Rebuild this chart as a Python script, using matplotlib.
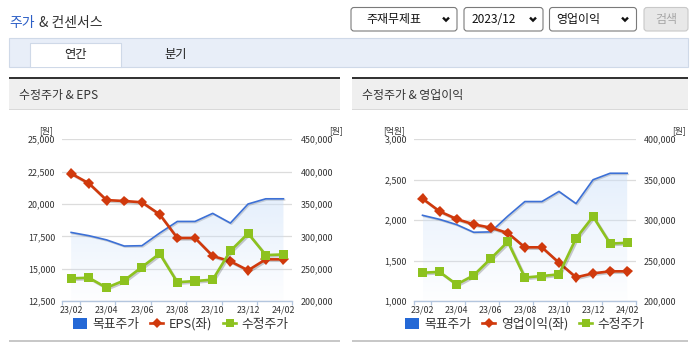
import numpy as np
import matplotlib
matplotlib.use('Agg')
import matplotlib.pyplot as plt
from matplotlib.patches import Rectangle, FancyBboxPatch, Patch, PathPatch
from matplotlib.lines import Line2D
import matplotlib.patheffects as pe
from matplotlib.ticker import FuncFormatter

plt.rcParams['font.family'] = ['Noto Sans CJK KR', 'DejaVu Sans']

# ---------------- data ----------------
months = ['23/02', '23/03', '23/04', '23/05', '23/06', '23/07', '23/08',
          '23/09', '23/10', '23/11', '23/12', '24/01', '24/02']
target_price = [306000, 301000, 294500, 285000, 285500, 305000, 323000,
                323000, 335500, 320500, 350000, 358000, 358000]
adj_price = [235000, 236000, 220500, 231800, 252500, 273300, 229000,
             230900, 233000, 277500, 304500, 271000, 272000]
eps = [22350, 21600, 20300, 20230, 20130, 19200, 17370,
       17370, 15980, 15570, 14870, 15720, 15720]
op_income = [2266, 2109, 2014, 1948, 1907, 1841, 1664,
             1664, 1474, 1293, 1342, 1367, 1367]

eps_ticks = [12500, 15000, 17500, 20000, 22500, 25000]
price_ticks_1 = [200000, 250000, 300000, 350000, 400000, 450000]
op_ticks = [1000, 1500, 2000, 2500, 3000]
price_ticks_2 = [200000, 250000, 300000, 350000, 400000]

# ---------------- colours ----------------
C_BLUE = '#3c70d6'
C_BLUE_LEG = '#2468d6'
C_RED = '#d0390c'
C_GREEN = '#8dc21f'
C_AXIS = '#b4c6de'
C_GRID = '#dcdcdc'
C_TXT = '#333333'

W, H = 695, 349
fig = plt.figure(figsize=(W / 100, H / 100), dpi=100)
bg = fig.add_axes([0, 0, 1, 1])
bg.set_xlim(0, W)
bg.set_ylim(H, 0)
bg.axis('off')


def rect(x0, y0, x1, y1, fc, ec='none', lw=0, z=1):
    bg.add_patch(Rectangle((x0, y0), x1 - x0, y1 - y0, facecolor=fc,
                           edgecolor=ec, linewidth=lw, zorder=z))


# ---------------- header ----------------
bg.text(9, 22.5, '주가', color='#2c5fc6', fontsize=10, va='center', ha='left')
bg.text(39, 22.5, '& 컨센서스', color=C_TXT, fontsize=10, va='center', ha='left')

# dropdowns
def dropdown(x0, x1, text, tx, cx):
    bg.add_patch(FancyBboxPatch((x0, 7.5), x1 - x0, 23.5,
                                boxstyle='round,pad=0,rounding_size=3',
                                facecolor='white', edgecolor='#7a7a7a', linewidth=0.8))
    bg.text(tx, 19.5, text, fontsize=8.6, color='#111111', va='center', ha='left')
    bg.plot([cx - 3, cx, cx + 3], [17.6, 20.6, 17.6], color='#111111', lw=1.7,
            solid_capstyle='butt', solid_joinstyle='miter')

dropdown(351, 457, '주재무제표', 366, 446)
dropdown(464, 543, '2023/12', 471.5, 533)
dropdown(549.5, 636.5, '영업이익', 556, 625)
bg.add_patch(FancyBboxPatch((644, 7.5), 44, 23.5,
                            boxstyle='round,pad=0,rounding_size=3',
                            facecolor='#e8e8e8', edgecolor='#c8c8c8', linewidth=0.8))
bg.text(666, 19.5, '검색', fontsize=8.6, color='#a6a6a6', va='center', ha='center')

# tab bar
rect(9, 37.5, 688, 66.5, fc='#e8eef8', ec='#cfd9e8', lw=0.8)
rect(29.5, 42.5, 120.5, 67.2, fc='white')
bg.plot([29.5, 29.5, 120.5, 120.5], [67, 42.5, 42.5, 67], color='#cfd9e8', lw=0.8)
bg.text(75, 54.5, '연간', fontsize=8.8, color='#222222', va='center', ha='center')
bg.text(176, 54.5, '분기', fontsize=8.8, color='#222222', va='center', ha='center')

# panels
for x0, x1, title in [(9, 340, '수정주가 & EPS'), (352, 688, '수정주가 & 영업이익')]:
    rect(x0, 79, x1, 109, fc='#efefef')
    rect(x0, 76.8, x1, 79, fc='#333333')
    rect(x0, 108.8, x1, 109.8, fc='#d9d9d9')
    bg.text(x0 + 10, 95, title, fontsize=8.6, color=C_TXT, va='center', ha='left')
    rect(x0, 339.5, x1, 342, fc='#c8c8c8')


def fmt(v, _pos=None):
    return f'{v:,.0f}'


def chart(x0, x1, left_vals, left_ticks, right_ticks, red_label,
          left_unit, left_unit_x, right_unit_x, leg_cx):
    y_top, y_bot = 139.3, 301
    rect_ax = [x0 / W, 1 - y_bot / H, (x1 - x0) / W, (y_bot - y_top) / H]
    x = np.arange(len(months))
    llim = (left_ticks[0], left_ticks[-1])
    rlim = (right_ticks[0], right_ticks[-1])

    ax = fig.add_axes(rect_ax)
    ax.patch.set_alpha(0)
    ax.set_xlim(-0.5, len(months) - 0.5)
    ax.set_ylim(*llim)
    ax.set_yticks(left_ticks)
    ax.yaxis.set_major_formatter(FuncFormatter(fmt))
    ax.grid(axis='y', color=C_GRID, lw=0.9)
    ax.set_axisbelow(True)
    for s in ['top', 'left', 'right']:
        ax.spines[s].set_visible(False)
    ax.spines['bottom'].set_color(C_AXIS)
    ax.spines['bottom'].set_linewidth(1.0)
    ax.tick_params(axis='y', length=0, pad=5, labelsize=6.4, labelcolor=C_TXT)
    ax.set_xticks(x[::2])
    ax.set_xticklabels(months[::2])
    ax.tick_params(axis='x', which='major', length=0, pad=3.5, labelsize=6.4,
                   labelcolor=C_TXT)
    ax.set_xticks(np.concatenate(([-0.5], np.arange(0.5, len(months), 2))), minor=True)
    ax.tick_params(axis='x', which='minor', length=3, width=0.9, color=C_AXIS)

    # right axis: target price (area + line)
    axr = ax.twinx()
    axr.set_ylim(*rlim)
    axr.set_yticks(right_ticks)
    axr.yaxis.set_major_formatter(FuncFormatter(fmt))
    for s in axr.spines.values():
        s.set_visible(False)
    axr.tick_params(axis='y', length=0, pad=6, labelsize=6.4, labelcolor=C_TXT)

    poly = axr.fill_between(x, target_price, rlim[0], facecolor='none', edgecolor='none')
    clip = PathPatch(poly.get_paths()[0], transform=axr.transData,
                     facecolor='none', edgecolor='none')
    axr.add_patch(clip)
    grad = np.zeros((256, 2, 4))
    t = np.linspace(1, 0, 256)[:, None]
    grad[..., 0] = 0.80
    grad[..., 1] = 0.88
    grad[..., 2] = 0.98
    grad[..., 3] = 0.03 + 0.48 * t
    im = axr.imshow(grad, extent=[x[0], x[-1], rlim[0], max(target_price)],
                    aspect='auto', origin='upper', interpolation='bilinear', zorder=1)
    im.set_clip_path(clip)
    axr.plot(x, target_price, color=C_BLUE, lw=1.2, zorder=2,
             path_effects=[pe.SimpleLineShadow(offset=(0.8, -0.8), alpha=0.15), pe.Normal()])
    axr.set_xlim(-0.5, len(months) - 0.5)

    # red series on left scale
    axl2 = ax.twinx()
    axl2.set_ylim(*llim)
    axl2.set_axis_off()
    axl2.plot(x, left_vals, color=C_RED, lw=1.9, marker='D', markersize=5.5,
              markeredgewidth=0,
              path_effects=[pe.SimpleLineShadow(offset=(1, -1), alpha=0.2), pe.Normal()])
    axl2.set_xlim(-0.5, len(months) - 0.5)

    # green series on right scale
    axr2 = ax.twinx()
    axr2.set_ylim(*rlim)
    axr2.set_axis_off()
    axr2.plot(x, adj_price, color=C_GREEN, lw=1.9, marker='s', markersize=6.5,
              markeredgewidth=0,
              path_effects=[pe.SimpleLineShadow(offset=(1, -1), alpha=0.2), pe.Normal()])
    axr2.set_xlim(-0.5, len(months) - 0.5)

    handles = [Patch(facecolor=C_BLUE_LEG, edgecolor='none'),
               Line2D([], [], color=C_RED, lw=1.9, marker='D', markersize=5, markeredgewidth=0),
               Line2D([], [], color=C_GREEN, lw=1.9, marker='s', markersize=6.3, markeredgewidth=0)]
    labels = ['목표주가', red_label, '수정주가']
    leg = axr2.legend(handles, labels, loc='center', bbox_to_anchor=(leg_cx / W, 1 - 324 / H),
                      bbox_transform=fig.transFigure, ncol=3, frameon=False,
                      fontsize=9.2, handlelength=1.05, handleheight=1.0,
                      handletextpad=0.42, columnspacing=0.85, borderpad=0,
                      borderaxespad=0)
    for tx in leg.get_texts():
        tx.set_color(C_TXT)

    bg.text(left_unit_x, 130.5, left_unit, fontsize=6.3, color=C_TXT, ha='center', va='center')
    bg.text(right_unit_x, 130.5, '[원]', fontsize=6.3, color=C_TXT, ha='center', va='center')


chart(62.3, 292.3, eps, eps_ticks, price_ticks_1, 'EPS(좌)', '[원]', 46.5, 335.5, 181)
chart(414, 635.7, op_income, op_ticks, price_ticks_2, '영업이익(좌)', '[억원]', 394, 679, 525)

fig.savefig('out.png', dpi=100)
